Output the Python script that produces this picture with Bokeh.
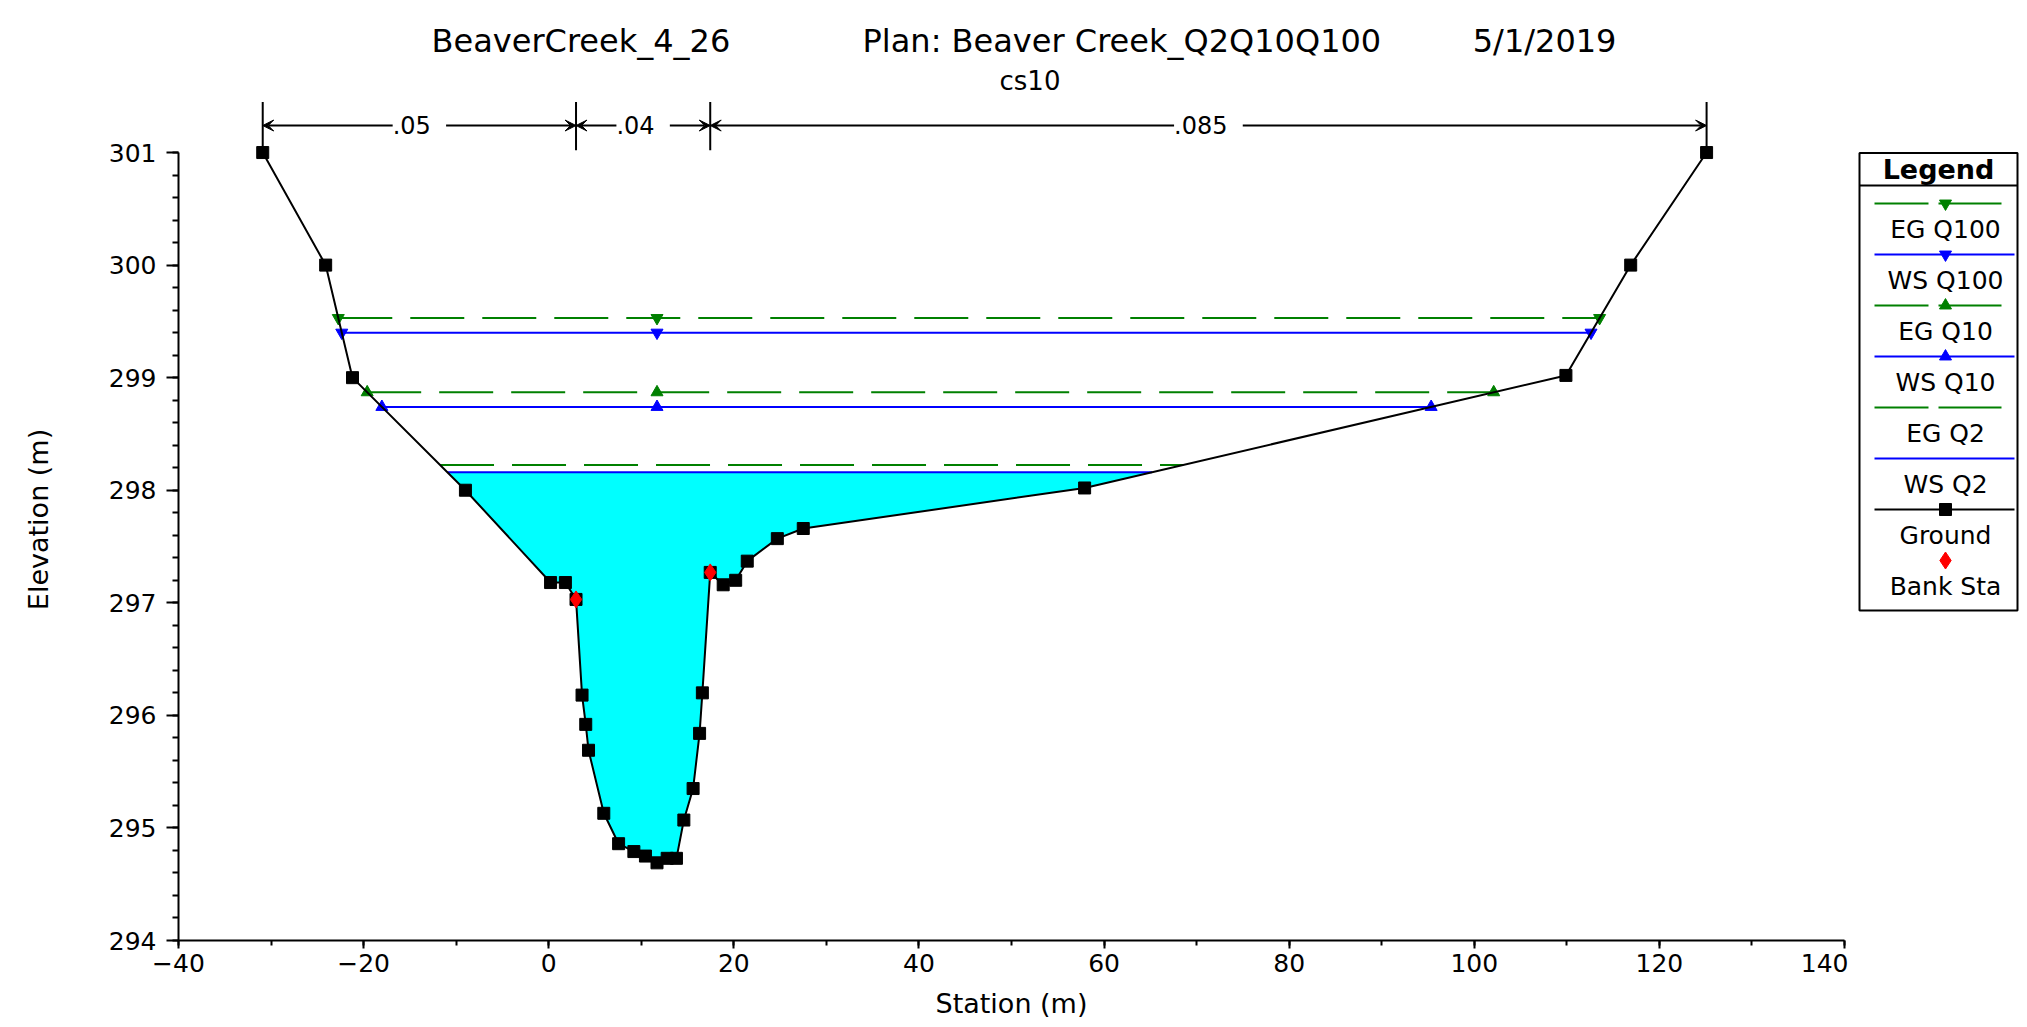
import numpy as np
from bokeh.plotting import figure
from bokeh.models import Range1d, SingleIntervalTicker, Title, Arrow, VeeHead, Label
from bokeh.layouts import row
from bokeh.embed import file_html
from bokeh.resources import INLINE
from bokeh.core.properties import value

# ---------------- data ----------------
station = [-30.9, -24.1, -21.2, -9.0, 0.2, 1.8, 2.95, 3.6, 4.0, 4.3, 5.95, 7.55,
           9.2, 10.45, 11.7, 12.8, 13.8, 14.6, 15.6, 16.3, 16.6, 17.45, 18.85,
           20.2, 21.45, 24.7, 27.5, 57.9, 109.9, 116.9, 125.1]
elevation = [301.0, 300.0, 299.0, 298.0, 297.18, 297.18, 297.03, 296.18, 295.92,
             295.69, 295.13, 294.86, 294.79, 294.75, 294.69, 294.73, 294.73, 295.07,
             295.35, 295.84, 296.20, 297.27, 297.16, 297.20, 297.37, 297.57, 297.66,
             298.02, 299.02, 300.0, 301.0]
bank_station = [2.95, 17.45]
bank_elevation = [297.03, 297.27]
profiles = ["Q100", "Q10", "Q2"]
ws_elevation = [299.40, 298.74, 298.16]
eg_elevation = [299.53, 298.87, 298.225]
profile_marker = ["inverted_triangle", "triangle", None]
mannings_n = [".05", ".04", ".085"]
title_parts = ["BeaverCreek_4_26", "Plan: Beaver Creek_Q2Q10Q100", "5/1/2019"]
subtitle = "cs10"
legend_labels = ["EG Q100", "WS Q100", "EG Q10", "WS Q10", "EG Q2", "WS Q2", "Ground", "Bank Sta"]

FONT = "DejaVu Sans"
EG_COLOR = "#008000"
WS_COLOR = "#0000FF"
FILL_COLOR = "#00FFFF"
EG_DASH = "54 18"
NBSP = "\u00a0"

st = np.array(station)
el = np.array(elevation)
imin = int(np.argmin(el))


def crossings(h):
    i = imin
    while el[i] < h:
        i -= 1
    xl = st[i] + (h - el[i]) * (st[i + 1] - st[i]) / (el[i + 1] - el[i])
    j = imin
    while el[j] < h:
        j += 1
    xr = st[j - 1] + (h - el[j - 1]) * (st[j] - st[j - 1]) / (el[j] - el[j - 1])
    return xl, xr, i, j


# ---------------- main figure ----------------
p = figure(width=1848, height=1027, x_range=Range1d(-40, 140), y_range=Range1d(294, 301.48),
           output_backend="svg", toolbar_location=None, title=None,
           min_border_left=178, min_border_right=4, min_border_top=98, min_border_bottom=87)
p.outline_line_color = None
p.grid.visible = False
p.background_fill_color = "white"

p.xaxis.ticker = SingleIntervalTicker(interval=20, num_minor_ticks=2)
p.yaxis.ticker = SingleIntervalTicker(interval=1, num_minor_ticks=5)
p.xaxis.bounds = (-40, 140)
p.yaxis.bounds = (294, 301)
p.xaxis.axis_label = "Station (m)"
p.yaxis.axis_label = "Elevation (m)"
for ax in (p.xaxis[0], p.yaxis[0]):
    ax.axis_line_width = 2
    ax.axis_line_color = "black"
    ax.major_tick_line_width = 2
    ax.minor_tick_line_width = 2
    ax.major_tick_in = 0
    ax.minor_tick_in = 0
    ax.major_label_text_font = FONT
    ax.major_label_text_font_size = "25px"
    ax.major_label_text_color = "black"
    ax.axis_label_text_font = FONT
    ax.axis_label_text_font_size = "27px"
    ax.axis_label_text_font_style = "normal"
    ax.axis_label_text_color = "black"
p.xaxis.major_tick_out = 8
p.xaxis.minor_tick_out = 5
p.xaxis.major_label_standoff = 5
p.xaxis.axis_label_standoff = 13
p.yaxis.major_tick_out = 12
p.yaxis.minor_tick_out = 6
p.yaxis.major_label_standoff = 10
p.yaxis.axis_label_standoff = 52

# titles (first added is closest to the frame); offset counts from the frame's left edge
p.add_layout(Title(text=subtitle, align="left", offset=821, text_font=FONT,
                   text_font_size="26px", text_font_style="normal", text_color="black",
                   standoff=6), "above")
main_title = title_parts[0] + NBSP * 13 + title_parts[1] + NBSP * 9 + title_parts[2]
p.add_layout(Title(text=main_title, align="left", offset=253, text_font=FONT,
                   text_font_size="32px", text_font_style="normal", text_color="black",
                   standoff=2), "above")

# water fill for the lowest profile
h2 = ws_elevation[2]
xl, xr, i, j = crossings(h2)
fx = [xl] + list(st[i + 1:j]) + [xr]
fy = [h2] + list(el[i + 1:j]) + [h2]
p.varea(x=fx, y1=fy, y2=[h2] * len(fx), fill_color=FILL_COLOR)

# EG and WS lines
for k in range(len(profiles)):
    for lev, col, dash in ((eg_elevation[k], EG_COLOR, EG_DASH), (ws_elevation[k], WS_COLOR, "solid")):
        a, b, _, _ = crossings(lev)
        p.line([a, b], [lev, lev], line_color=col, line_width=2, line_dash=dash)
        if profile_marker[k]:
            p.scatter([a, st[imin], b], [lev] * 3, marker=profile_marker[k], size=12,
                      fill_color=col, line_color=col)

# ground
p.line(station, elevation, line_color="black", line_width=2)
p.scatter(station, elevation, marker="square", size=12, fill_color="black", line_color="black")
p.scatter(bank_station, bank_elevation, marker="diamond", size=17, fill_color="red", line_color="red")

# Manning's n bar
n_edges = [station[0], bank_station[0], bank_station[1], station[-1]]
bar_y = 301.24
p.segment(x0=n_edges, y0=[301.02] * 4, x1=n_edges, y1=[301.45] * 4, line_color="black", line_width=2)
for k, nval in enumerate(mannings_n):
    p.add_layout(Arrow(x_start=n_edges[k], x_end=n_edges[k + 1], y_start=bar_y, y_end=bar_y,
                       line_width=2, line_color="black",
                       start=VeeHead(size=11, fill_color="black", line_color="black", line_width=1),
                       end=VeeHead(size=11, fill_color="black", line_color="black", line_width=1)))
    p.add_layout(Label(x=(n_edges[k] + n_edges[k + 1]) / 2, y=bar_y, text=" " + nval + " ",
                       text_align="center", text_baseline="middle", text_font=FONT,
                       text_font_size="24px", text_color="black", background_fill_color="white"))

# ---------------- legend figure (frame aligned with main frame: y = page pixel) ----------------
lg = figure(width=179, height=1027, x_range=Range1d(0, 179), y_range=Range1d(940, 98),
            output_backend="svg", toolbar_location=None, min_border=0,
            x_axis_location=None, y_axis_location=None)
lg.outline_line_color = None
lg.grid.visible = False

lg.quad(left=11, right=169, top=152.5, bottom=610, fill_color=None, line_color="black", line_width=2)
lg.segment(x0=11, y0=185, x1=169, y1=185, line_color="black", line_width=2)
lg.text(x=[90], y=[169], text=["Legend"], text_font=value(FONT), text_font_size="27px",
        text_font_style="bold", text_align="center", text_baseline="middle", text_color="black")

styles = []
for k in range(len(profiles)):
    styles.append((EG_COLOR, "54 10 70 10", profile_marker[k], 153))
    styles.append((WS_COLOR, "solid", profile_marker[k], 166))
styles.append(("black", "solid", "square", 166))
styles.append(("red", None, "diamond", None))

for n, (lab, (col, dash, mk, xend)) in enumerate(zip(legend_labels, styles)):
    ly = 203 + n * 51
    if dash is not None:
        lg.line([26, xend], [ly, ly], line_color=col, line_width=2, line_dash=dash)
    if mk:
        sz = 17 if mk == "diamond" else 12
        lg.scatter([97], [ly], marker=mk, size=sz, fill_color=col, line_color=col)
    lg.text(x=[97], y=[ly + 26], text=[lab], text_font=value(FONT), text_font_size="25px",
            text_align="center", text_baseline="middle", text_color="black")

layout = row(p, lg)
open("out.html", "w").write(file_html(layout, INLINE))
